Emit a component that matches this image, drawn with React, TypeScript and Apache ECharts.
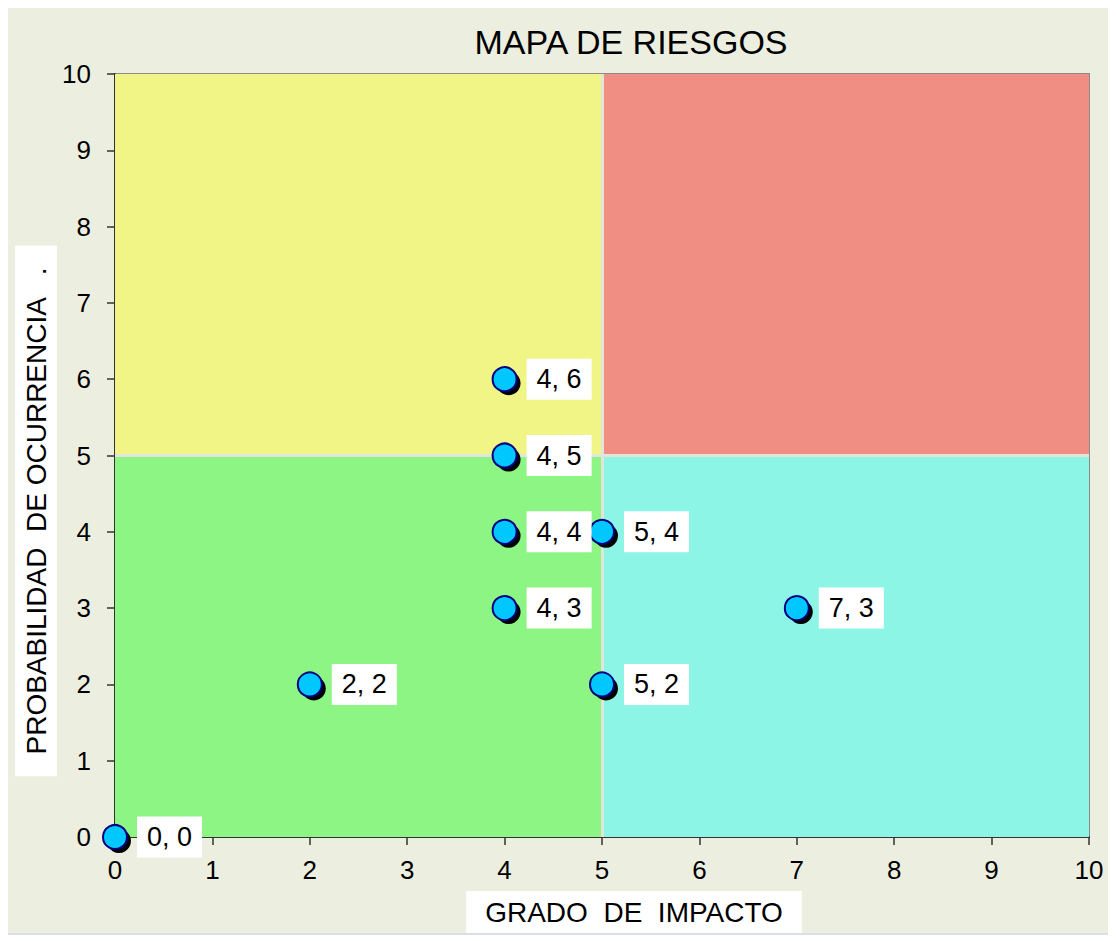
import React, { useEffect, useRef } from "react";
import * as echarts from "echarts";

const titleText = "MAPA DE RIESGOS";
const xAxisTitle = "GRADO  DE  IMPACTO";
const yAxisTitle = "PROBABILIDAD  DE OCURRENCIA   .";
const impacto = [0, 2, 4, 4, 4, 4, 5, 5, 7];
const probabilidad = [0, 2, 3, 4, 5, 6, 2, 4, 3];
const axisMin = 0;
const axisMax = 10;
const axisStep = 1;
const split = 5;

const FONT = '"Liberation Sans", Arial, sans-serif';

export default function App() {
  const ref = useRef<HTMLDivElement>(null);
  useEffect(() => {
    if (!ref.current) return;
    const chart = echarts.init(ref.current, null, { renderer: "svg" });
    const points = impacto.map((x, i) => [x, probabilidad[i]]);
    chart.setOption({
      animation: false,
      backgroundColor: "#ECEFE0",
      textStyle: { fontFamily: FONT },
      grid: {
        left: 107,
        right: 19,
        top: 66,
        bottom: 96,
        show: true,
        borderColor: "#8A8A8A",
        borderWidth: 2,
        backgroundColor: "transparent",
      },
      xAxis: {
        type: "value",
        min: axisMin,
        max: axisMax,
        interval: axisStep,
        splitLine: { show: false },
        axisLine: { show: true, onZero: false, lineStyle: { color: "#333", width: 2 } },
        axisTick: { show: true, length: 8, lineStyle: { color: "#333", width: 1.5 } },
        axisLabel: { fontSize: 26, color: "#000", margin: 20, fontFamily: FONT },
      },
      yAxis: {
        type: "value",
        min: axisMin,
        max: axisMax,
        interval: axisStep,
        splitLine: { show: false },
        axisLine: { show: true, onZero: false, lineStyle: { color: "#333", width: 2 } },
        axisTick: { show: true, length: 8, lineStyle: { color: "#333", width: 1.5 } },
        axisLabel: { fontSize: 26, color: "#000", margin: 24, fontFamily: FONT },
      },
      graphic: [
        {
          type: "text",
          x: 623,
          y: 34,
          style: {
            text: titleText,
            font: `34px ${FONT}`,
            fill: "#000",
            align: "center",
            verticalAlign: "middle",
            textAlign: "center",
            textVerticalAlign: "middle",
          },
        },
        {
          type: "text",
          x: 626,
          y: 904,
          style: {
            text: xAxisTitle,
            font: `28px ${FONT}`,
            fill: "#000",
            backgroundColor: "#fff",
            padding: [7, 19, 7, 19],
            align: "center",
            verticalAlign: "middle",
            textAlign: "center",
            textVerticalAlign: "middle",
          },
        },
        {
          type: "text",
          x: 28,
          y: 503,
          rotation: Math.PI / 2,
          style: {
            text: yAxisTitle,
            font: `28px ${FONT}`,
            fill: "#000",
            backgroundColor: "#fff",
            padding: [7, 21, 7, 21],
            align: "center",
            verticalAlign: "middle",
            textAlign: "center",
            textVerticalAlign: "middle",
          },
        },
      ],
      series: [
        {
          type: "scatter",
          name: "areas",
          data: [],
          silent: true,
          z: 1,
          markArea: {
            silent: true,
            z: 1,
            itemStyle: { borderWidth: 0 },
            data: [
              [{ xAxis: axisMin, yAxis: split, itemStyle: { color: "#F0F585", opacity: 1 } }, { xAxis: split, yAxis: axisMax }],
              [{ xAxis: split, yAxis: split, itemStyle: { color: "#F08E84", opacity: 1 } }, { xAxis: axisMax, yAxis: axisMax }],
              [{ xAxis: axisMin, yAxis: axisMin, itemStyle: { color: "#8CF584", opacity: 1 } }, { xAxis: split, yAxis: split }],
              [{ xAxis: split, yAxis: axisMin, itemStyle: { color: "#8CF5E6", opacity: 1 } }, { xAxis: axisMax, yAxis: split }],
            ],
          },
          markLine: {
            silent: true,
            z: 1,
            symbol: "none",
            label: { show: false },
            lineStyle: { color: "#E2E6D8", width: 3, type: "solid" },
            data: [{ xAxis: split }, { yAxis: split }],
          },
        },
        {
          type: "scatter",
          name: "sombra",
          data: points,
          symbol: "circle",
          symbolSize: 24,
          symbolOffset: [4, 4],
          itemStyle: { color: "#000", opacity: 1 },
          silent: true,
          clip: false,
          z: 3,
        },
        {
          type: "scatter",
          name: "riesgos",
          data: points,
          symbol: "circle",
          symbolSize: 24,
          clip: false,
          itemStyle: { color: "#00C8FF", borderColor: "#000080", borderWidth: 2, opacity: 1 },
          label: {
            show: true,
            position: "right",
            distance: 9,
            formatter: (p: any) => `${p.value[0]}, ${p.value[1]}`,
            fontSize: 27,
            lineHeight: 27,
            color: "#000",
            fontFamily: FONT,
            backgroundColor: "#fff",
            padding: [7, 10, 7, 10],
          },
          z: 4,
        },
      ],
    });
    return () => chart.dispose();
  }, []);
  return (
    <div style={{ margin: "-2px 0 0 -2px", border: "2px solid #D7E0E8", width: 1100, height: 925 }}>
      <div ref={ref} style={{ width: 1100, height: 925 }} />
    </div>
  );
}
